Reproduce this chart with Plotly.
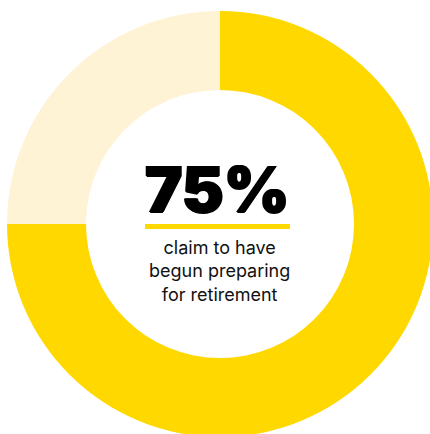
import plotly.graph_objects as go

# Share of respondents
labels = ["Begun preparing", "Not yet"]
values = [75, 25]
colors = ["#FFD800", "#FFF3D6"]

headline = "75%"
caption_lines = ["claim to have", "begun preparing", "for retirement"]

# Canvas slightly larger than the viewport so the ring can bleed off the edges
W, H = 446, 450
cx, cy, R = 220, 224, 213  # ring centre and outer radius, in pixels


def px_x(x):
    return x / W


def px_y(y):
    return 1 - y / H


fig = go.Figure(
    go.Pie(
        labels=labels,
        values=values,
        hole=134 / 213,
        sort=False,
        direction="clockwise",
        rotation=0,
        marker=dict(colors=colors, line=dict(width=0)),
        textinfo="none",
        hoverinfo="label+percent",
        showlegend=False,
        domain=dict(x=[px_x(cx - R), px_x(cx + R)], y=[px_y(cy + R), px_y(cy - R)]),
    )
)

fig.add_annotation(
    x=px_x(217), y=px_y(189), xref="paper", yref="paper",
    text=f"<b>{headline}</b>", showarrow=False,
    xanchor="center", yanchor="middle",
    font=dict(family="Inter Black, Inter", size=63, color="#000000", weight=900,
              shadow="1px 0 0 #000, -1px 0 0 #000, 0 1px 0 #000"),
)

# Yellow rule under the headline
fig.add_shape(
    type="rect", xref="paper", yref="paper",
    x0=px_x(145), x1=px_x(290), y0=px_y(229), y1=px_y(224),
    fillcolor="#FFD800", line=dict(width=0),
)

# Three-line caption below the rule
fig.add_annotation(
    x=px_x(219), y=px_y(271), xref="paper", yref="paper",
    text="<br>".join(caption_lines), showarrow=False,
    xanchor="center", yanchor="middle", align="center",
    font=dict(family="Inter", size=18, color="#111111"),
)

fig.update_layout(
    width=W, height=H,
    margin=dict(l=0, r=0, t=0, b=0),
    paper_bgcolor="#FFFFFF", plot_bgcolor="#FFFFFF",
)

fig.write_html(
    "out.html",
    config={"displayModeBar": False},
    post_script="document.documentElement.style.overflow='hidden';document.body.style.overflow='hidden';document.body.style.margin='0';",
)
